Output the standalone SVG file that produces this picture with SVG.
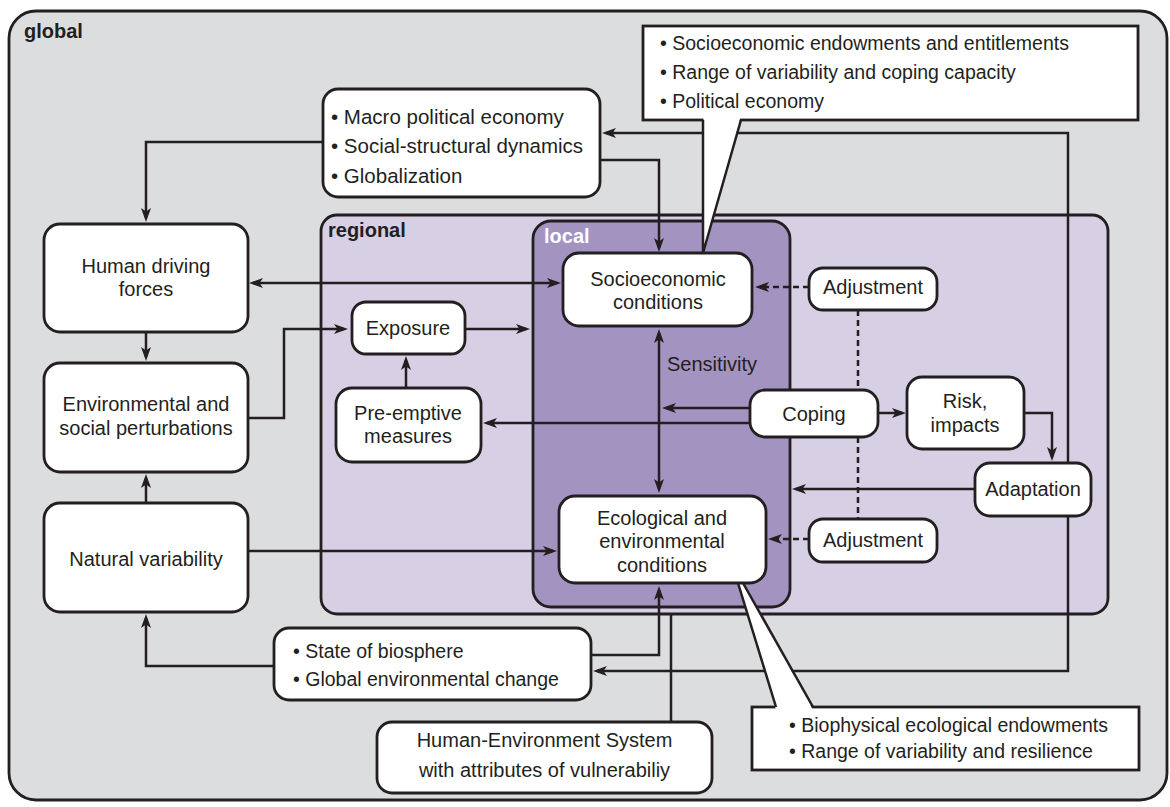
<svg xmlns="http://www.w3.org/2000/svg" width="1170" height="807" viewBox="0 0 1170 807">
<defs>
<style>
.box{fill:#ffffff;stroke:#231f20;stroke-width:2.8}
.cont{stroke:#231f20;stroke-width:2.8}
.ln{fill:none;stroke:#231f20;stroke-width:2.5}
.dash{stroke-dasharray:6 4}
.t{font-family:"Liberation Sans",Arial,sans-serif;font-size:20px;fill:#231f20}
.c{text-anchor:middle}
.s{font-size:19.5px}
.m{font-size:20.5px}
.lbl{font-family:"Liberation Sans",Arial,sans-serif;font-size:20px;font-weight:bold}
</style>
<marker id="ah" viewBox="0 0 14 10" refX="10" refY="5" markerWidth="14" markerHeight="10" markerUnits="userSpaceOnUse" orient="auto-start-reverse">
<path d="M0,0 L14,5 L0,10 L3.5,5 Z" fill="#231f20"/>
</marker>
</defs>

<g id="containers">
<rect id="global" class="cont" x="9" y="11" width="1158" height="789" rx="27" fill="#dcdddf"/>
<text class="lbl" x="24" y="38" fill="#231f20">global</text>
<rect id="regional" class="cont" x="321" y="215" width="787" height="399" rx="16" fill="#d7cfe4"/>
<text class="lbl" x="328" y="237" fill="#231f20">regional</text>
<rect id="local" class="cont" x="533" y="221" width="257" height="386" rx="18" fill="#a393c1"/>
<text class="lbl" x="544" y="243" fill="#ffffff">local</text>
</g>

<g id="connectors">
<path class="ln" d="M323,142 H146 V218" marker-end="url(#ah)"/>
<path class="ln" d="M600,160 H659 V248" marker-end="url(#ah)"/>
<path class="ln" d="M1068,463 V133 H606" marker-end="url(#ah)"/>
<path class="ln" d="M1068,516 V671 H597" marker-end="url(#ah)"/>
<path class="ln" d="M253,283 H557" marker-start="url(#ah)" marker-end="url(#ah)"/>
<path class="ln" d="M146,332 V357" marker-end="url(#ah)"/>
<path class="ln" d="M146,503 V478" marker-end="url(#ah)"/>
<path class="ln" d="M248,418 H284 V329 H344" marker-end="url(#ah)"/>
<path class="ln" d="M465,329 H526" marker-end="url(#ah)"/>
<path class="ln" d="M406,388 V360" marker-end="url(#ah)"/>
<path class="ln" d="M750,423 H487" marker-end="url(#ah)"/>
<path class="ln" d="M750,408 H666" marker-end="url(#ah)"/>
<path class="ln" d="M659,333 V489" marker-start="url(#ah)" marker-end="url(#ah)"/>
<path class="ln" d="M878,413 H902" marker-end="url(#ah)"/>
<path class="ln" d="M1024,413 H1052 V457" marker-end="url(#ah)"/>
<path class="ln" d="M975,489 H796" marker-end="url(#ah)"/>
<path class="ln dash" d="M809,287 H759" marker-end="url(#ah)"/>
<path class="ln dash" d="M809,539 H772" marker-end="url(#ah)"/>
<path class="ln dash" d="M858,310 V390"/>
<path class="ln dash" d="M858,437 V519"/>
<path class="ln" d="M248,551 H553" marker-end="url(#ah)"/>
<path class="ln" d="M274,666 H146 V618" marker-end="url(#ah)"/>
<path class="ln" d="M591,655 H659 V590" marker-end="url(#ah)"/>
<path class="ln" d="M671,722 V614"/>
</g>

<g id="callout-socioeconomic">
<rect class="box" x="643" y="26" width="495" height="94"/>
<polygon points="703.5,117 740.5,117 703.5,253" fill="#ffffff"/>
<polyline class="ln" points="703,120 703,253 741,120" stroke-width="2.8"/>
<text class="t s" x="660" y="50">• Socioeconomic endowments and entitlements</text>
<text class="t s" x="660" y="79">• Range of variability and coping capacity</text>
<text class="t s" x="660" y="108">• Political economy</text>
</g>

<g id="callout-biophysical">
<rect class="box" x="752" y="707" width="387" height="63"/>
<polygon points="738,583 743,583 813,710 776,710" fill="#ffffff"/>
<line class="ln" x1="738" y1="583" x2="776" y2="707" stroke-width="2.8"/>
<line class="ln" x1="743" y1="583" x2="813" y2="707" stroke-width="2.8"/>
<text class="t s" x="789" y="732">• Biophysical ecological endowments</text>
<text class="t s" x="789" y="758">• Range of variability and resilience</text>
</g>

<g id="macro">
<rect class="box" x="323" y="89" width="277" height="108" rx="15"/>
<text class="t m" x="331" y="124">• Macro political economy</text>
<text class="t m" x="331" y="153">• Social-structural dynamics</text>
<text class="t m" x="331" y="183">• Globalization</text>
</g>
<g id="human-driving-forces">
<rect class="box" x="44" y="224" width="204" height="108" rx="16"/>
<text class="t c" x="146" y="273">Human driving</text>
<text class="t c" x="146" y="296">forces</text>
</g>
<g id="perturbations">
<rect class="box" x="44" y="363" width="204" height="109" rx="16"/>
<text class="t c" x="146" y="411">Environmental and</text>
<text class="t c" x="146" y="435">social perturbations</text>
</g>
<g id="natural-variability">
<rect class="box" x="44" y="503" width="204" height="109" rx="16"/>
<text class="t c" x="146" y="566">Natural variability</text>
</g>
<g id="exposure">
<rect class="box" x="352" y="302" width="113" height="52" rx="14"/>
<text class="t c" x="408" y="335">Exposure</text>
</g>
<g id="pre-emptive">
<rect class="box" x="336" y="388" width="145" height="74" rx="16"/>
<text class="t c" x="408" y="420">Pre-emptive</text>
<text class="t c" x="408" y="443">measures</text>
</g>
<g id="socioeconomic">
<rect class="box" x="563" y="253" width="189" height="73" rx="16"/>
<text class="t c" x="658" y="286">Socioeconomic</text>
<text class="t c" x="658" y="309">conditions</text>
</g>
<g id="sensitivity">
<text class="t" x="667" y="371">Sensitivity</text>
</g>
<g id="ecological">
<rect class="box" x="559" y="496" width="207" height="87" rx="16"/>
<text class="t c" x="662" y="525">Ecological and</text>
<text class="t c" x="662" y="548">environmental</text>
<text class="t c" x="662" y="572">conditions</text>
</g>
<g id="adjustment-upper">
<rect class="box" x="809" y="268" width="128" height="42" rx="14"/>
<text class="t c" x="873" y="294">Adjustment</text>
</g>
<g id="adjustment-lower">
<rect class="box" x="809" y="519" width="128" height="43" rx="14"/>
<text class="t c" x="873" y="547">Adjustment</text>
</g>
<g id="coping">
<rect class="box" x="750" y="390" width="128" height="47" rx="15"/>
<text class="t c" x="814" y="421">Coping</text>
</g>
<g id="risk">
<rect class="box" x="907" y="377" width="117" height="72" rx="15"/>
<text class="t c" x="965" y="408">Risk,</text>
<text class="t c" x="965" y="432">impacts</text>
</g>
<g id="adaptation">
<rect class="box" x="975" y="463" width="116" height="53" rx="15"/>
<text class="t c" x="1033" y="496">Adaptation</text>
</g>
<g id="biosphere">
<rect class="box" x="274" y="628" width="317" height="72" rx="15"/>
<text class="t s" x="293" y="658">• State of biosphere</text>
<text class="t s" x="293" y="686">• Global environmental change</text>
</g>
<g id="human-environment-system">
<rect class="box" x="377" y="722" width="335" height="71" rx="15"/>
<text class="t c" x="544.5" y="747">Human-Environment System</text>
<text class="t c" x="544.5" y="777">with attributes of vulnerabiliy</text>
</g>
</svg>
